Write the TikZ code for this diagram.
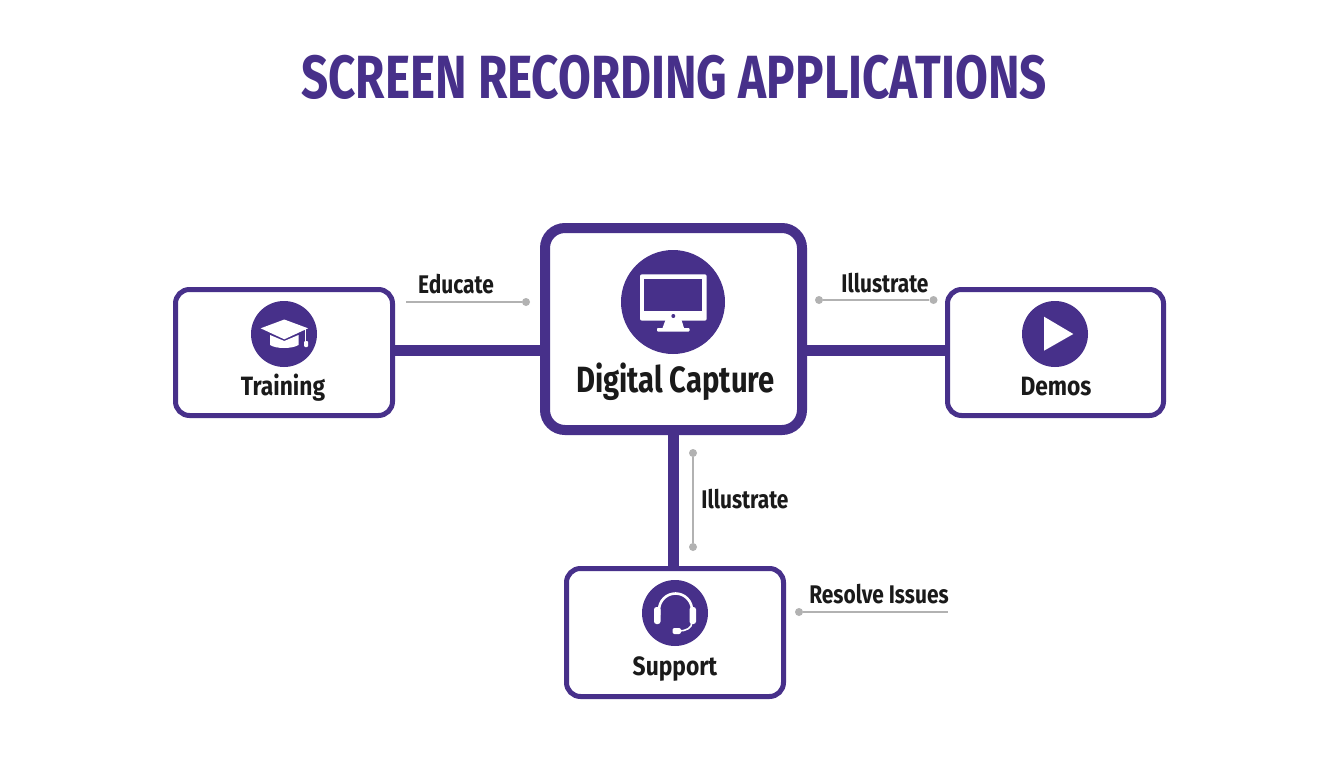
\documentclass[tikz,border=0pt]{standalone}
\usepackage{fontspec}
\setmainfont{Fira Sans}
\newfontfamily\condfont[FakeStretch=0.78]{Fira Sans}
\newfontfamily\boxfont[FakeStretch=0.86]{Fira Sans}
\newfontfamily\bigfont[FakeStretch=0.80]{Fira Sans}
\newfontfamily\notefont[FakeStretch=0.82]{Fira Sans}
\definecolor{brandpurple}{HTML}{47308A}
\definecolor{inkdark}{HTML}{1A1A1A}
\definecolor{notegray}{HTML}{B2B2B2}
\tikzset{
  box/.style={draw=brandpurple,line width=5pt,rounded corners=14pt,fill=white,inner sep=0pt},
  bigbox/.style={box,line width=10pt,rounded corners=20pt},
  link/.style={draw=brandpurple,line width=11pt},
  badge/.style={circle,fill=brandpurple,inner sep=0pt},
  boxtext/.style={anchor=base,inner sep=0pt,text=inkdark,font=\boxfont\fontsize{26.5}{30}\selectfont\bfseries},
  bigtext/.style={boxtext,font=\bigfont\fontsize{36.5}{40}\selectfont\bfseries},
  notetext/.style={boxtext,font=\notefont\fontsize{25.5}{30}\selectfont\bfseries},
  titletext/.style={anchor=base,inner sep=0pt,text=brandpurple,font=\condfont\fontsize{61}{66}\selectfont\bfseries},
  note/.style={draw=notegray,line width=1.6pt},
  notedot/.style={circle,fill=notegray,inner sep=0pt,minimum size=8pt},
}
\begin{document}
\begin{tikzpicture}[x=1pt,y=-1pt]
\useasboundingbox (0,0) rectangle (1344,768);
\fill[white] (0,0) rectangle (1344,768);
\node[titletext] (title) at (674,98) {SCREEN RECORDING APPLICATIONS};

% boxes
\node[box,minimum width=217pt,minimum height=126pt] (train) at (284,352.5) {};
\node[box,minimum width=216pt,minimum height=126pt] (demos) at (1055.5,352.5) {};
\node[box,minimum width=217pt,minimum height=128pt] (sup) at (675,632.5) {};
\node[bigbox,minimum width=257pt,minimum height=202pt] (cap) at (673.5,329) {};

% connectors
\coordinate (lA) at (train.east |- 0,350);
\coordinate (lB) at (cap.west |- 0,350);
\coordinate (rA) at (cap.east |- 0,350);
\coordinate (rB) at (demos.west |- 0,350);
\draw[link] (lA) -- (lB);
\draw[link] (rA) -- (rB);
\draw[link] (cap.south) -- (cap.south |- sup.north);

% badges
\node[badge,minimum size=66pt] (btrain) at (284,334) {};
\node[badge,minimum size=104pt] (bcap) at (673,302) {};
\node[badge,minimum size=66pt] (bdemos) at (1055,334) {};
\node[badge,minimum size=66pt] (bsup) at (675,613) {};

% graduation cap
\fill[white] (270,335) -- (284.3,341) -- (298.5,335) -- (298.5,345) .. controls (292,349) and (276,349) .. (270,345) -- cycle;
\fill[white] (284.3,319.5) -- (308,328.3) -- (284.3,339.3) -- (260.7,328.3) -- cycle;
\draw[white,line width=1.2pt] (305.7,329) -- (305.7,342);
\fill[white,rounded corners=1pt] (304,341) rectangle (308,347);

% monitor
\fill[white,rounded corners=2pt] (640,274.3) rectangle (706.7,320.7);
\fill[brandpurple] (644.3,279) rectangle (702.3,311);
\fill[brandpurple] (673.3,316) circle (2pt);
\fill[white] (665.5,320) -- (681.5,320) -- (684,328) -- (662.5,328) -- cycle;
\fill[white,rounded corners=0.8pt] (657,328) rectangle (689.5,331.5);

% play
\fill[white] (1044,316.7) -- (1073.3,334) -- (1044,350.7) -- cycle;

% headset
\draw[white,line width=2.6pt] (659,615) -- (659,610) arc[start angle=180,end angle=0,radius=16.5pt] -- (692,615);
\fill[white,rounded corners=2.5pt] (654,607) rectangle (660.5,624);
\fill[white,rounded corners=2.5pt] (689.5,607) rectangle (696,624);
\draw[white,line width=1.6pt] (692,622) .. controls (692,628) and (686,631) .. (679,631);
\fill[white,rounded corners=2pt] (672.5,628) rectangle (681,634);

% box labels
\node[boxtext] (ttrain) at (283,395) {Training};
\node[bigtext] (tcap) at (675.5,392) {Digital Capture};
\node[boxtext] (tdemos) at (1056,395) {Demos};
\node[boxtext] (tsup) at (675,675) {Support};

% annotation lines
\coordinate (n1a) at (406,302);
\node[notedot] (n1b) at (526,302) {};
\draw[note] (n1a) -- (n1b);
\node[notetext] (n1t) at (456,293) {Educate};

\node[notedot] (n2a) at (819,300) {};
\node[notedot] (n2b) at (933.5,300) {};
\draw[note] (n2a) -- (n2b);
\node[notetext] (n2t) at (885,292) {Illustrate};

\node[notedot] (n3a) at (693,453) {};
\node[notedot] (n3b) at (693,547) {};
\draw[note] (n3a) -- (n3b);
\node[notetext] (n3t) at (745,508) {Illustrate};

\node[notedot] (n4a) at (799,612) {};
\coordinate (n4b) at (948,612);
\draw[note] (n4a) -- (n4b);
\node[notetext] (n4t) at (879,603) {Resolve Issues};
\end{tikzpicture}
\end{document}
